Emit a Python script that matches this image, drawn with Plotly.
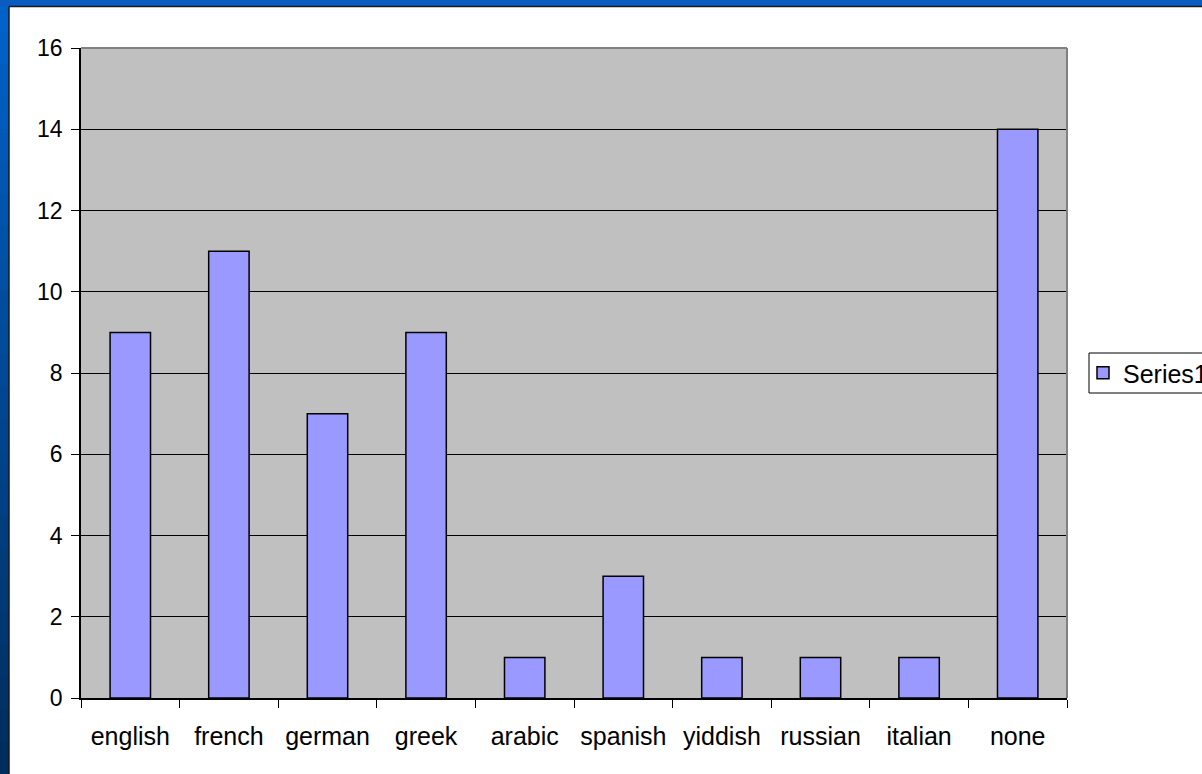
import plotly.graph_objects as go

categories = ["english", "french", "german", "greek", "arabic", "spanish", "yiddish", "russian", "italian", "none"]
values = [9, 11, 7, 9, 1, 3, 1, 1, 1, 14]
series_name = "Series1"
y_ticks = [0, 2, 4, 6, 8, 10, 12, 14, 16]

W, H = 1202, 774
L, R, T, B = 81, 1067, 48, 698

def px(x):
    return (x - L) / (R - L)

def py(y):
    return (B - y) / (B - T)

FONT = "Liberation Sans, Arial, sans-serif"

fig = go.Figure()
fig.add_trace(go.Bar(
    x=categories, y=values, name=series_name,
    marker=dict(color="#9999FF", line=dict(color="#000000", width=1.5)),
    showlegend=True,
))

shapes = []
# blue frame top
shapes.append(dict(type="rect", xref="paper", yref="paper", x0=px(-5), x1=px(W + 5), y0=py(-5), y1=py(6),
                   fillcolor="#0A5CC0", line=dict(width=0), layer="below"))
# left frame gradient strips
n = 24
c_top = (0, 98, 200)
c_bot = (0, 45, 95)
for i in range(n):
    y0 = H * i / n
    y1 = H * (i + 1) / n + 1
    t = i / (n - 1)
    c = tuple(int(round(c_top[k] + (c_bot[k] - c_top[k]) * t)) for k in range(3))
    shapes.append(dict(type="rect", xref="paper", yref="paper", x0=px(-5), x1=px(9), y0=py(max(y0, 6)), y1=py(y1 if i < n - 1 else H + 5),
                       fillcolor="rgb(%d,%d,%d)" % c, line=dict(width=0), layer="below"))
# dark edge lines
shapes.append(dict(type="line", xref="paper", yref="paper", x0=px(9), x1=px(W + 5), y0=py(6.5), y1=py(6.5),
                   line=dict(color="#1a1a1a", width=1.5)))
shapes.append(dict(type="line", xref="paper", yref="paper", x0=px(9), x1=px(9), y0=py(6.5), y1=py(H + 5),
                   line=dict(color="#1a1a1a", width=1.5)))
# plot area grey top/right border
shapes.append(dict(type="line", xref="paper", yref="paper", x0=0, x1=1, y0=1, y1=1,
                   line=dict(color="#808080", width=2)))
shapes.append(dict(type="line", xref="paper", yref="paper", x0=1, x1=1, y0=0, y1=1,
                   line=dict(color="#808080", width=2)))
# legend box
shapes.append(dict(type="rect", xref="paper", yref="paper", x0=px(1089), x1=px(1215), y0=py(393), y1=py(353),
                   fillcolor="rgba(0,0,0,0)", line=dict(color="#000000", width=1)))

fig.update_layout(
    width=W, height=H,
    margin=dict(l=L, r=W - R, t=T, b=H - B, autoexpand=False),
    paper_bgcolor="#FFFFFF",
    plot_bgcolor="#C0C0C0",
    font=dict(family=FONT, size=23, color="#000000"),
    bargap=0.59,
    shapes=shapes,
    showlegend=True,
    legend=dict(x=px(1083), y=py(373), xanchor="left", yanchor="middle",
                bgcolor="rgba(0,0,0,0)", borderwidth=0,
                font=dict(family=FONT, size=25, color="#000000")),
    xaxis=dict(
        type="category", tickson="boundaries", ticks="outside", ticklen=8, tickcolor="#000000",
        showline=True, linecolor="#000000", linewidth=1.5, showgrid=False,
        tickfont=dict(family=FONT, size=25), ticklabelstandoff=15,
    ),
    yaxis=dict(
        range=[0, 16], tickvals=y_ticks, ticktext=[str(v) for v in y_ticks],
        ticks="outside", ticklen=8, tickcolor="#000000",
        showline=True, linecolor="#000000", linewidth=1.5,
        showgrid=True, gridcolor="#000000", gridwidth=1, zeroline=False,
        tickfont=dict(family=FONT, size=23), ticklabelstandoff=4,
    ),
)

fig.write_html("out.html", config={"displayModeBar": False},
               post_script="document.body.style.margin='0';document.body.style.overflow='hidden';")
